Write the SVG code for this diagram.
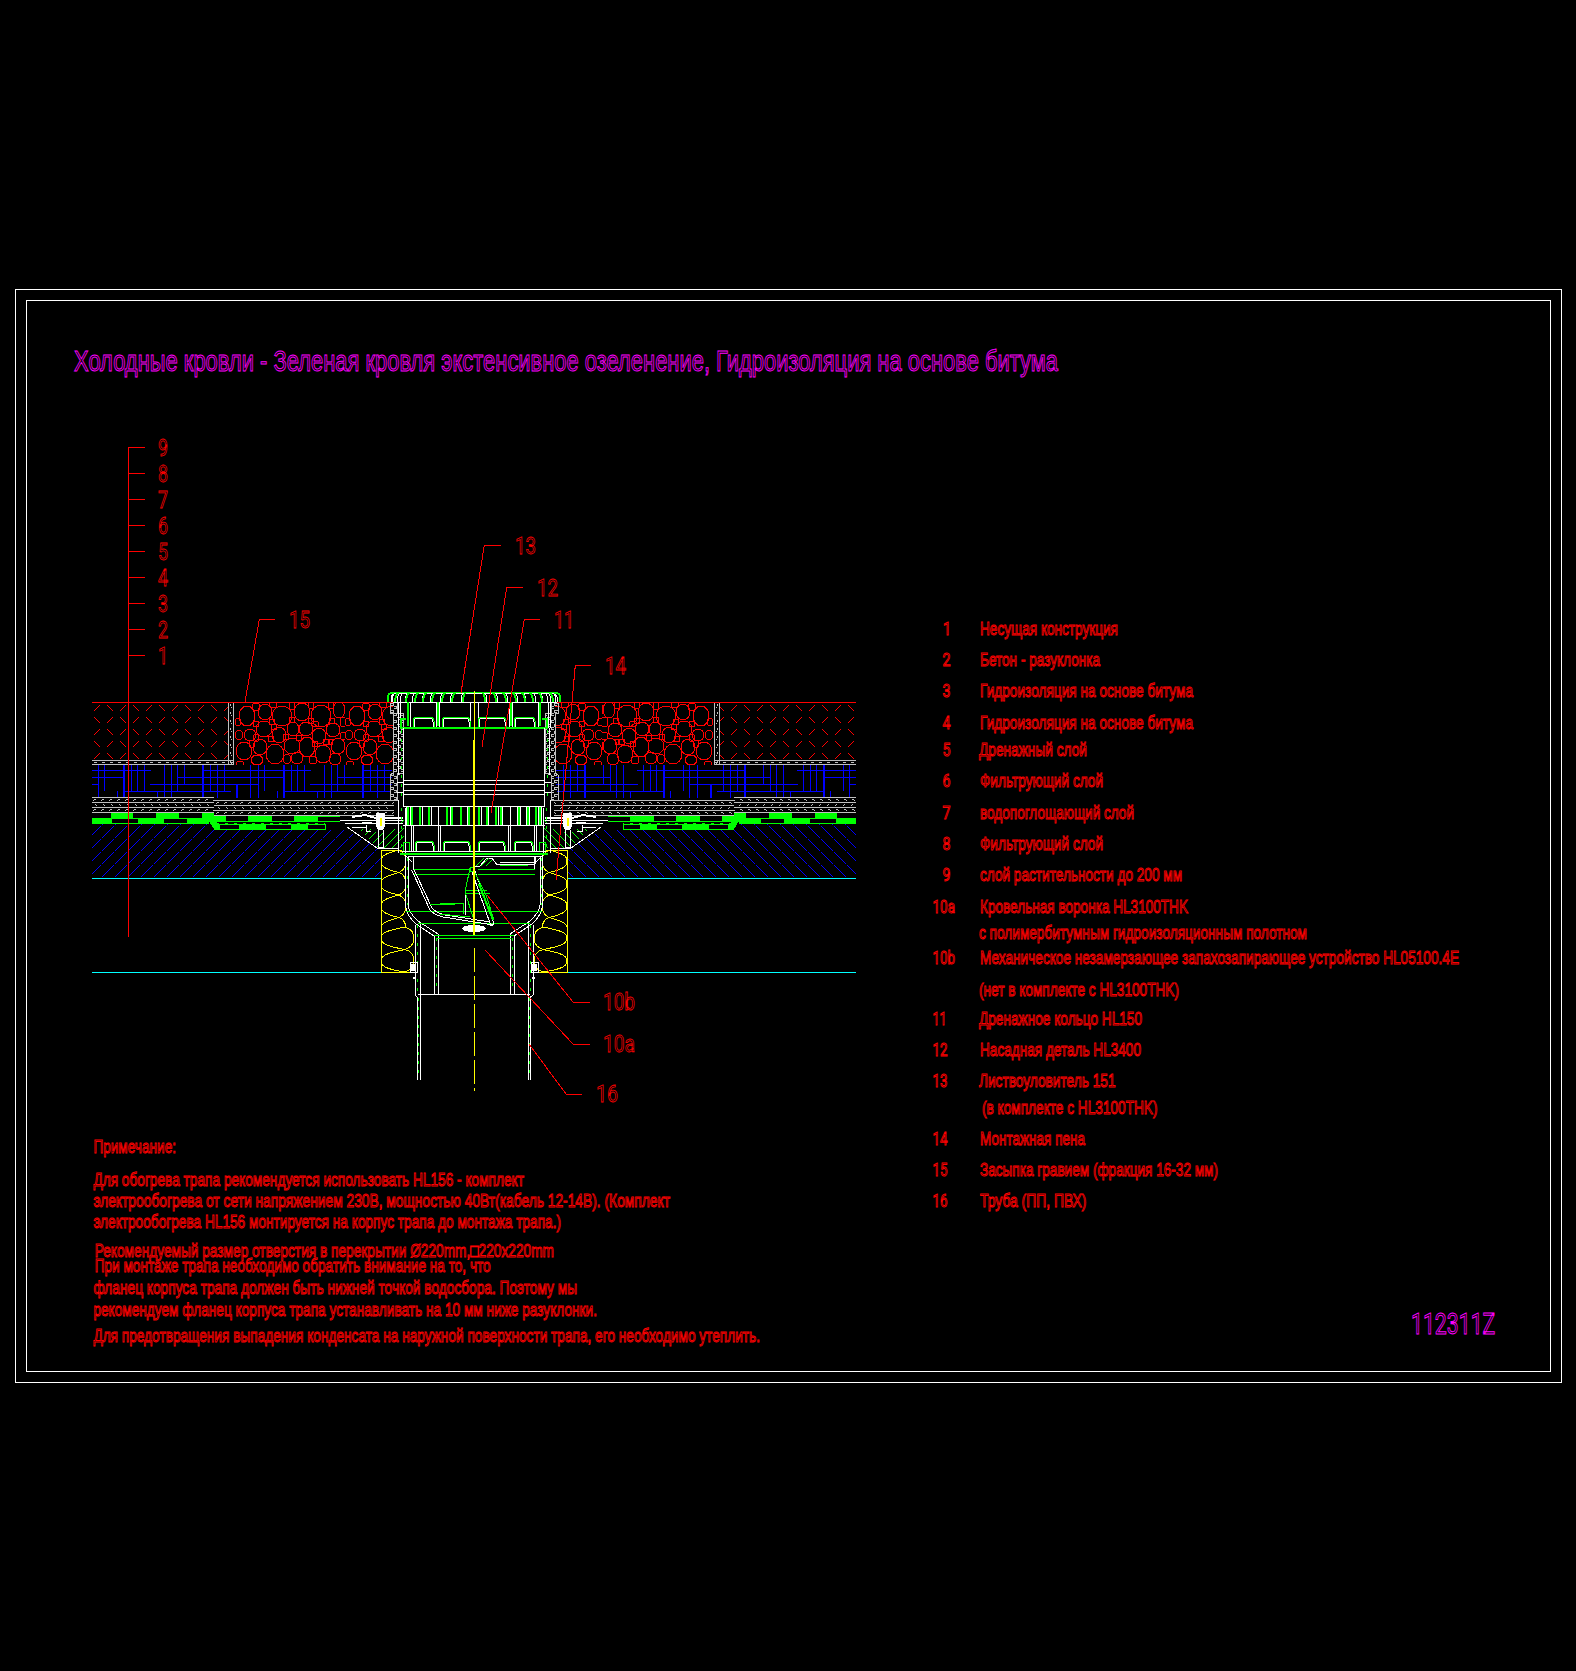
<svg xmlns="http://www.w3.org/2000/svg" width="1576" height="1671" viewBox="0 0 1576 1671">
<style>
*{shape-rendering:crispEdges}
text{font-family:"Liberation Sans","Noto Sans CJK SC",sans-serif;fill:none;stroke-width:1}
.t{stroke:#f00;font-size:18.5px}
.n{stroke:#f00;font-size:23px;stroke-width:.8;font-family:Roboto,"Liberation Sans",sans-serif}
.d{font-family:Roboto,"Liberation Sans",sans-serif}
.m{stroke:#f0f}
.w{fill:none;stroke:#fff;stroke-width:1}
.W{fill:none;stroke:#fff;stroke-width:2}
.g{fill:none;stroke:#0f0;stroke-width:1}
.G{fill:none;stroke:#0f0;stroke-width:2}
.gd{fill:none;stroke:#0f0;stroke-width:1;stroke-dasharray:3 6}
.y{fill:none;stroke:#ff0;stroke-width:1}
.c{fill:none;stroke:#0ff;stroke-width:1}
.r{fill:none;stroke:#f00;stroke-width:1}
.b{fill:none;stroke:#00f;stroke-width:1}
.B{fill:none;stroke:#00f;stroke-width:2}
.gy{fill:none;stroke:#c0c0c0;stroke-width:1}
.gf{fill:#0f0}
</style>
<defs>
<pattern id="conc" patternUnits="userSpaceOnUse" x="92" y="702" width="26" height="24">
<path class="r" d="M2 9L8 3M15 3L21 9M2 15L8 21M15 21L21 15"/>
</pattern>
<pattern id="grav" patternUnits="userSpaceOnUse" x="235" y="702" width="110" height="64">
<g class="r">
<ellipse cx="12" cy="14" rx="8" ry="10"/><ellipse cx="30" cy="10" rx="7" ry="8"/><ellipse cx="47" cy="14" rx="10" ry="10"/><ellipse cx="67" cy="10" rx="8" ry="9"/><ellipse cx="86" cy="14" rx="10" ry="11"/><ellipse cx="104" cy="8" rx="6" ry="8"/>
<ellipse cx="4" cy="33" rx="4" ry="5"/><ellipse cx="15" cy="33" rx="6" ry="6"/><ellipse cx="29" cy="27" rx="8" ry="8"/><ellipse cx="44" cy="33" rx="7" ry="8"/><ellipse cx="58" cy="27" rx="6" ry="7"/><ellipse cx="71" cy="27" rx="7" ry="7"/><ellipse cx="84" cy="34" rx="7" ry="8"/><ellipse cx="98" cy="28" rx="7" ry="7"/>
<ellipse cx="9" cy="49" rx="8" ry="9"/><ellipse cx="25" cy="45" rx="7" ry="8"/><ellipse cx="40" cy="52" rx="9" ry="10"/><ellipse cx="57" cy="44" rx="8" ry="8"/><ellipse cx="72" cy="45" rx="8" ry="10"/><ellipse cx="88" cy="52" rx="8" ry="9"/><ellipse cx="103" cy="44" rx="7" ry="8"/>
<ellipse cx="21" cy="22" rx="3" ry="3"/><ellipse cx="39" cy="25" rx="3" ry="3"/><ellipse cx="80" cy="22" rx="4" ry="3"/><ellipse cx="52" cy="57" rx="4" ry="5"/><ellipse cx="62" cy="56" rx="6" ry="6"/><ellipse cx="78" cy="58" rx="4" ry="4"/><ellipse cx="100" cy="57" rx="6" ry="6"/><ellipse cx="22" cy="58" rx="6" ry="5"/><ellipse cx="5" cy="62" rx="4" ry="3"/>
<ellipse cx="21" cy="5" rx="4" ry="4"/><ellipse cx="38" cy="3" rx="4" ry="3"/><ellipse cx="57" cy="4" rx="3" ry="4"/><ellipse cx="76" cy="3" rx="3" ry="4"/><ellipse cx="96" cy="3" rx="3" ry="4"/><ellipse cx="3" cy="20" rx="3" ry="4"/><ellipse cx="37" cy="20" rx="3" ry="3"/><ellipse cx="57" cy="18" rx="3" ry="3"/><ellipse cx="76" cy="19" rx="3" ry="3"/><ellipse cx="97" cy="19" rx="3" ry="3"/><ellipse cx="108" cy="20" rx="3" ry="5"/><ellipse cx="21" cy="36" rx="3" ry="4"/><ellipse cx="36" cy="37" rx="3" ry="3"/><ellipse cx="51" cy="35" rx="3" ry="3"/><ellipse cx="64" cy="36" rx="3" ry="3"/><ellipse cx="91" cy="40" rx="3" ry="3"/><ellipse cx="108" cy="34" rx="3" ry="4"/><ellipse cx="17" cy="42" rx="3" ry="4"/><ellipse cx="80" cy="42" rx="3" ry="3"/><ellipse cx="96" cy="40" rx="2" ry="3"/>
</g>
</pattern>
<pattern id="drain" patternUnits="userSpaceOnUse" x="92" y="765" width="160" height="33">
<path class="b" d="M0 5H59M111 5H160M0 12H33M86 12H160M0 19H6M58 19H160M32 26H139M5 33H105"/>
<path class="B" d="M32 0V33M111 0V33M145 19V33"/>
<path class="b" d="M6 0V33M45 0V27M72 0V33M79 0V33M125 0V33M158 0V33M12 0V26M39 0V27M52 0V26M25 26V33M65 26V33M85 0V27M92 0V20M118 0V26M132 0V26"/>
</pattern>
<pattern id="bh" patternUnits="userSpaceOnUse" x="0" y="823" width="13" height="13">
<path class="b" d="M0 13L10 3M11 2L13 0"/>
</pattern>
<pattern id="gh" patternUnits="userSpaceOnUse" x="0" y="0" width="8" height="8">
<path class="g" d="M0 8L8 0"/>
</pattern>
<pattern id="gl1" patternUnits="userSpaceOnUse" x="92" y="797" width="8" height="16">
<path class="gy" d="M0 .5H8M0 5.5H8M0 10.5H8M0 15.5H8M1 4L3 2H4M1 14L3 12H4M5 9L3 7"/>
</pattern>
<pattern id="gl2" patternUnits="userSpaceOnUse" x="215" y="800" width="8" height="16">
<path class="gy" d="M0 .5H8M0 5.5H8M0 10.5H8M0 15.5H8M1 4L3 2H4M1 14L3 12H4M5 9L3 7"/>
</pattern>
<pattern id="gh1" patternUnits="userSpaceOnUse" x="92" y="760" width="8" height="5">
<path class="gy" d="M0 .5H8M0 4.5H8M2 3L4 2H5"/>
</pattern>
<pattern id="gv1" patternUnits="userSpaceOnUse" x="228" y="702" width="6" height="8">
<path class="gy" d="M.5 0V8M5.5 0V8M2 2L3 4M3 5V6"/>
</pattern>
<pattern id="gc" patternUnits="userSpaceOnUse" x="390" y="702" width="7" height="7">
<path class="gy" d="M0 1H3V3H1M4 4H6V6H4"/>
</pattern>
<pattern id="batt" patternUnits="userSpaceOnUse" x="381" y="850" width="25" height="45">
<path fill="none" stroke="#ff0" d="M18 0C3 4 0 6 0 11.200C0 16 3 19 18 22.500C22 24 25 28 25 33.800C25 40 22 43 18 45M18 22.500C3 26.400 0 29 0 33.800C0 39 3 42 18 45M18 0C22 2 25 6 25 11.200C25 17 22 20.400 18 22.500"/>
</pattern>
<pattern id="batt2" patternUnits="userSpaceOnUse" x="381" y="927" width="34" height="45">
<path fill="none" stroke="#ff0" d="M24 0C4 4 0 6 0 11.200C0 16 4 19 24 22.500C30 24 33 28 33 33.800C33 40 30 43 24 45M24 22.500C4 26.400 0 29 0 33.800C0 39 4 42 24 45M24 0C30 2 33 6 33 11.200C33 17 30 20.400 24 22.500"/>
</pattern>
<g id="half">
<rect x="92" y="702" width="136" height="58" fill="url(#conc)"/>
<rect x="235" y="702" width="158" height="63" fill="url(#grav)"/>
<rect x="92" y="760" width="142" height="5" fill="url(#gh1)"/>
<rect x="228" y="702" width="6" height="63" fill="url(#gv1)"/>
<rect x="92" y="765" width="300" height="33" fill="url(#drain)"/>
<rect x="92" y="797" width="122" height="16" fill="url(#gl1)"/>
<rect x="214" y="800" width="180" height="16" fill="url(#gl2)"/>
<polygon points="390,702 397,702 397,713 403,713 403,773 397,775 397,800 390,800 390,775 393,773 393,713 390,713" fill="url(#gc)" stroke="#c0c0c0"/>
<rect x="111" y="813" width="22" height="5" class="gf"/><rect x="156" y="813" width="23" height="5" class="gf"/><rect x="202" y="813" width="12" height="5" class="gf"/>
<rect x="92" y="818" width="20" height="6" class="gf"/><rect x="138" y="818" width="26" height="6" class="gf"/><rect x="187" y="818" width="22" height="6" class="gf"/>
<path class="g" d="M92 823.500H209M92 818H209"/>
<polygon points="207,818 214,818 220,826 220,830 214,829" class="gf"/>
<rect x="213" y="816" width="13" height="5" class="gf"/><rect x="248" y="816" width="24" height="5" class="gf"/><rect x="294" y="816" width="24" height="5" class="gf"/>
<path class="g" d="M213 821H340M318 816H340M214 829.500H325V824.500H213"/>
<path class="gd" d="M216 823H325" stroke-dasharray="2 8"/>
<rect x="239" y="825" width="27" height="5" class="gf"/><rect x="291" y="825" width="17" height="5" class="gf"/>
<polygon points="92,824 209,824 214,830 347,830 381,849 381,878 92,878" fill="url(#bh)"/>
<polygon points="360,829 372,829 377,832 384,832 398,828 404,815 404,848 378,848" fill="url(#gh)"/>
<path class="c" d="M92 878.300H381V972.300H92"/>
<rect x="381" y="850" width="25" height="77" fill="url(#batt)"/>
<rect x="381" y="927" width="34" height="45" fill="url(#batt2)"/>
<path class="y" d="M381 850V972.300H413M381 850H402"/>
<path class="w" d="M340 820H403M345 823H403M352 827H366M366 825V831H371M378 818H403M347 827L377 848H398V806"/>
<path class="w" d="M378 830V847H383V830"/>
<polygon points="376,813 385,813 385,826 383,830 378,830 376,826" fill="#fff"/>
<path d="M380.500 818V826" stroke="#ff0" stroke-width="2"/>
<path class="W" d="M352 817L365 815L376 818M385 818H403M362 823H372"/>
<path class="G" d="M388 702V697Q388 693 394 692.500H474"/>
<path class="w" d="M390 702H474M391 702V697Q392 694 397 693H474"/>
<path class="w" d="M392 702q0-6 3-9M397 702q0-6 3-9M400 702q0-6 3-9M405 702q0-6 3-9M412 702q0-6 3-9M422 702q0-6 3-9M430 702q0-6 3-9M440 702q0-6 3-9M450 702q0-6 3-9M461 702q0-6 2-9"/>
<path class="G" d="M395 702q0-6 3-9M406 702q0-6 3-9M415 702q0-6 3-9M423 702q0-6 3-9M432 702q0-6 3-9M442 702q0-6 3-9M452 702q0-6 3-9M463 702q0-6 2-9"/>
<path class="w" d="M398 702V728M400 702V728M410 702V728M436 702V728M439 702V728M470 702V728"/>
<path class="G" d="M408 702V726M437.500 702V726"/>
<path class="w" d="M414 728V722Q414 718 418 718H429Q433 718 433 722V728M443 728V722Q443 718 447 718H465Q469 718 469 722V728"/>
<path class="g" d="M413 728V721Q413 717 418 717H429Q434 717 434 721V728M442 728V721Q442 717 447 717H465Q470 717 470 721V728"/>
<path class="G" d="M400 728H474M401 728V719H406"/>
<path class="w" d="M403.500 728V806M398.500 728V775M398 800V853M405 808V853M403 780.700H474M403 784H474M403 790.700H474M403 794H474M397 782H403M397 792H403"/>
<path class="gd" d="M401 730V800"/>
<path class="w" d="M403 806.700H474M403 825.700H474M406.500 807V825M410 807V825M419 807V825M422 807V825M428 807V825M431 807V825M438 807V825M446 807V825M450 807V825M460 807V825M467 807V825"/>
<path class="G" d="M408 807V825M412 807V825M420 807V825M429 807V825M447 807V825M452 807V825M461 807V825M469 807V825"/>
<path class="w" d="M411.700 826V852M413.500 826V852M438 826V852M440 826V852"/>
<path class="w" d="M416 852V846Q416 842 420 842H429Q433 842 433 846V852M444 852V846Q444 842 448 842H465Q469 842 469 846V852"/>
<path class="g" d="M415 852V845Q415 841 420 841H429Q434 841 434 845V852M443 852V845Q443 841 448 841H465Q470 841 470 845V852M403 852V842H409V852"/>
<path class="w" d="M402 851.500H474"/><path class="G" d="M400 853.500H474"/>
<path class="gd" d="M401.500 808V850"/>
<path class="w" d="M405.500 855V905Q406 915 416 924L434 936V994M408 856V905Q409 913 418 921L438 934V994M408 856H474M411 856H474"/>
<path class="w" d="M413.500 856V870M405 855L412 862"/>
<path class="w" d="M415 925V995L417.300 997V1080M420 922V994V1080M418 994.500H474"/>
<path class="gd" d="M407 858V905M417.500 925V992M436 938V992M418.500 998V1078"/>
<path class="g" d="M406 911.700H474M418 923H474M434 935H474M437 938H474M413 869.300H470M413 874H470"/>
<path class="w" d="M410 962H417V972H410Z"/>
<polygon points="411,964 416,964 416,971 411,971" fill="#fff"/>
<path class="W" d="M413 978H416"/>
</g>
</defs>
<rect width="1576" height="1671" fill="#000"/>
<g id="frame" fill="none" stroke="#fff" stroke-width="1">
<rect x="15.500" y="289.500" width="1546" height="1092.500"/>
<rect x="26.500" y="300.500" width="1523.500" height="1070.500"/>
</g>
<g id="title"><text class="m" x="74" y="370.500" font-size="29.500" textLength="984" lengthAdjust="spacingAndGlyphs">Холодные кровли - Зеленая кровля экстенсивное озеленение, Гидроизоляция на основе битума</text></g>
<g id="section">
<use href="#half"/>
<use href="#half" transform="translate(948 0) scale(-1 1)"/>
<path class="r" d="M92 702.300H393M557 702.300H856"/>
<g id="flap">
<path class="w" d="M411.700 870L430 910Q436 917 450 918L493 925M413.700 869L432 908Q438 915 452 916L490 922"/>
<path class="g" d="M430 904H455M440 903H463V914M440 914L470 917M465 890H487M466 893H490"/>
<path class="w" d="M470 868L465 892V915M475 871L494 924L491 926L472 872"/>
<path class="G" d="M479 884L493 920"/>
<path class="g" d="M470 867H474V871H470ZM474 871L486 895L494 920M470 868L465 892L474 920"/>
<path class="w" d="M473 866H480L487 858H492L497 865L535 864V856"/>
<path class="w" d="M500 862H535"/><path class="g" d="M500 865H528"/>
<path d="M476 866L484 858M481 866L489 858M486 866L492 860" class="g"/>
<ellipse cx="474" cy="928.500" rx="12" ry="3.500" fill="#fff"/>
</g>
<g id="axis">
<path class="y" d="M474 691V740"/>
<path d="M474 740V935" stroke="#ff0" stroke-width="2"/>
<path class="y" d="M474.500 948V1091" stroke-dasharray="24 4"/>
</g>
</g>
<g id="connectors">
<path class="r" d="M128.300 447.300V937M128.300 447.300H145M128.300 473.300H145M128.300 499.300H145M128.300 525.300H145M128.300 551.300H145M128.300 577.300H145M128.300 603.300H145M128.300 629.300H145M128.300 655.300H145"/>
<path class="r" d="M245 702L259.300 619.300H275M461 693L484.300 545.300H501M482 747L506.700 587.300H523M491 813L524.300 619.700H540M556 880L575.300 665.300H591M487 895L573 1002H590M485 950L573 1044H590M529 1044L566 1094H582"/>
</g>
<g id="callouts">
<text class="n" x="158" y="455.700" textLength="10" lengthAdjust="spacingAndGlyphs">9</text>
<text class="n" x="158" y="481.700" textLength="10" lengthAdjust="spacingAndGlyphs">8</text>
<text class="n" x="158" y="507.700" textLength="10" lengthAdjust="spacingAndGlyphs">7</text>
<text class="n" x="158" y="533.700" textLength="10" lengthAdjust="spacingAndGlyphs">6</text>
<text class="n" x="158" y="559.700" textLength="10" lengthAdjust="spacingAndGlyphs">5</text>
<text class="n" x="158" y="585.700" textLength="10" lengthAdjust="spacingAndGlyphs">4</text>
<text class="n" x="158" y="611.700" textLength="10" lengthAdjust="spacingAndGlyphs">3</text>
<text class="n" x="158" y="637.700" textLength="10" lengthAdjust="spacingAndGlyphs">2</text>
<text class="n" x="158" y="663.700" textLength="10" lengthAdjust="spacingAndGlyphs">1</text>
<text class="n" x="289" y="628.300" textLength="21" lengthAdjust="spacingAndGlyphs">15</text>
<text class="n" x="515" y="554" textLength="21" lengthAdjust="spacingAndGlyphs">13</text>
<text class="n" x="537" y="596" textLength="21" lengthAdjust="spacingAndGlyphs">12</text>
<text class="n" x="554" y="628" textLength="20" lengthAdjust="spacingAndGlyphs">11</text>
<text class="n" x="605" y="673.700" textLength="21" lengthAdjust="spacingAndGlyphs">14</text>
<text class="n" x="603" y="1010" textLength="32" lengthAdjust="spacingAndGlyphs">10b</text>
<text class="n" x="603" y="1052" textLength="32" lengthAdjust="spacingAndGlyphs">10a</text>
<text class="n" x="596" y="1102" textLength="22" lengthAdjust="spacingAndGlyphs">16</text>
</g>
<g id="legend">
<text class="t d" x="943" y="635" textLength="8" lengthAdjust="spacingAndGlyphs">1</text><text class="t" x="980" y="635" textLength="138" lengthAdjust="spacingAndGlyphs">Несущая конструкция</text>
<text class="t d" x="942.500" y="665.700" textLength="8" lengthAdjust="spacingAndGlyphs">2</text><text class="t" x="980" y="665.700" textLength="120" lengthAdjust="spacingAndGlyphs">Бетон - разуклонка</text>
<text class="t d" x="942.500" y="697.300" textLength="8" lengthAdjust="spacingAndGlyphs">3</text><text class="t" x="980" y="697.300" textLength="213" lengthAdjust="spacingAndGlyphs">Гидроизоляция на основе битума</text>
<text class="t d" x="942.500" y="729.300" textLength="8" lengthAdjust="spacingAndGlyphs">4</text><text class="t" x="980" y="729.300" textLength="213" lengthAdjust="spacingAndGlyphs">Гидроизоляция на основе битума</text>
<text class="t d" x="942.500" y="755.700" textLength="8" lengthAdjust="spacingAndGlyphs">5</text><text class="t" x="979" y="755.700" textLength="108" lengthAdjust="spacingAndGlyphs">Дренажный слой</text>
<text class="t d" x="942.500" y="787" textLength="8" lengthAdjust="spacingAndGlyphs">6</text><text class="t" x="980" y="787" textLength="123" lengthAdjust="spacingAndGlyphs">Фильтрующий слой</text>
<text class="t d" x="942.500" y="818.700" textLength="8" lengthAdjust="spacingAndGlyphs">7</text><text class="t" x="980" y="818.700" textLength="154" lengthAdjust="spacingAndGlyphs">водопоглощающий слой</text>
<text class="t d" x="942.500" y="849.700" textLength="8" lengthAdjust="spacingAndGlyphs">8</text><text class="t" x="980" y="849.700" textLength="123" lengthAdjust="spacingAndGlyphs">Фильтрующий слой</text>
<text class="t d" x="942.500" y="881" textLength="8" lengthAdjust="spacingAndGlyphs">9</text><text class="t" x="980" y="881" textLength="202" lengthAdjust="spacingAndGlyphs">слой растительности до 200 мм</text>
<text class="t d" x="932.500" y="912.700" textLength="22.500" lengthAdjust="spacingAndGlyphs">10a</text><text class="t" x="980" y="912.700" textLength="208" lengthAdjust="spacingAndGlyphs">Кровельная воронка HL3100THK</text>
<text class="t" x="979" y="939" textLength="328" lengthAdjust="spacingAndGlyphs">с полимербитумным гидроизоляционным полотном</text>
<text class="t d" x="932.500" y="964.300" textLength="22.500" lengthAdjust="spacingAndGlyphs">10b</text><text class="t" x="980" y="964.300" textLength="479" lengthAdjust="spacingAndGlyphs">Механическое незамерзающее запахозапирающее устройство HL05100.4E</text>
<text class="t" x="979" y="995.700" textLength="200" lengthAdjust="spacingAndGlyphs">(нет в комплекте с HL3100THK)</text>
<text class="t d" x="932.500" y="1025" textLength="14" lengthAdjust="spacingAndGlyphs">11</text><text class="t" x="979" y="1025" textLength="163" lengthAdjust="spacingAndGlyphs">Дренажное кольцо HL150</text>
<text class="t d" x="932.500" y="1055.700" textLength="15" lengthAdjust="spacingAndGlyphs">12</text><text class="t" x="980" y="1055.700" textLength="161" lengthAdjust="spacingAndGlyphs">Насадная деталь HL3400</text>
<text class="t d" x="932.500" y="1087" textLength="15" lengthAdjust="spacingAndGlyphs">13</text><text class="t" x="979" y="1087" textLength="136.500" lengthAdjust="spacingAndGlyphs">Листвоуловитель 151</text>
<text class="t" x="982" y="1114" textLength="175.500" lengthAdjust="spacingAndGlyphs">(в комплекте с HL3100THK)</text>
<text class="t d" x="932.500" y="1145" textLength="15" lengthAdjust="spacingAndGlyphs">14</text><text class="t" x="980" y="1145" textLength="105" lengthAdjust="spacingAndGlyphs">Монтажная пена</text>
<text class="t d" x="932.500" y="1175.700" textLength="15" lengthAdjust="spacingAndGlyphs">15</text><text class="t" x="980" y="1175.700" textLength="238" lengthAdjust="spacingAndGlyphs">Засыпка гравием (фракция 16-32 мм)</text>
<text class="t d" x="932.500" y="1206.700" textLength="15" lengthAdjust="spacingAndGlyphs">16</text><text class="t" x="980" y="1206.700" textLength="106.500" lengthAdjust="spacingAndGlyphs">Труба (ПП, ПВХ)</text>
</g>
<g id="notes">
<text class="t" x="93.400" y="1153.300" textLength="82.600" lengthAdjust="spacingAndGlyphs">Примечание:</text>
<text class="t" x="93.400" y="1185.700" textLength="430.600" lengthAdjust="spacingAndGlyphs">Для обогрева трапа рекомендуется использовать HL156 - комплект</text>
<text class="t" x="93.400" y="1206.700" textLength="576.600" lengthAdjust="spacingAndGlyphs">электрообогрева от сети напряжением 230В, мощностью 40Вт(кабель 12-14В). (Комплект</text>
<text class="t" x="93.400" y="1227.700" textLength="467.600" lengthAdjust="spacingAndGlyphs">электрообогрева HL156 монтируется на корпус трапа до монтажа трапа.)</text>
<text class="t" x="94.700" y="1256.700" textLength="459.300" lengthAdjust="spacingAndGlyphs">Рекомендуемый размер отверстия в перекрытии Ø220mm,□220x220mm</text>
<text class="t" x="94.700" y="1272" textLength="396" lengthAdjust="spacingAndGlyphs">При монтаже трапа необходимо обратить внимание на то, что</text>
<text class="t" x="93.400" y="1293.700" textLength="483.600" lengthAdjust="spacingAndGlyphs">фланец корпуса трапа должен быть нижней точкой водосбора. Поэтому мы</text>
<text class="t" x="93.400" y="1316" textLength="503.600" lengthAdjust="spacingAndGlyphs">рекомендуем фланец корпуса трапа устанавливать на 10 мм ниже разуклонки.</text>
<text class="t" x="93.400" y="1342.300" textLength="666.600" lengthAdjust="spacingAndGlyphs">Для предотвращения выпадения конденсата на наружной поверхности трапа, его необходимо утеплить.</text>
</g>
<g id="code"><text class="m d" x="1411" y="1333.700" font-size="30" textLength="84.300" lengthAdjust="spacingAndGlyphs">112311Z</text></g>
</svg>
